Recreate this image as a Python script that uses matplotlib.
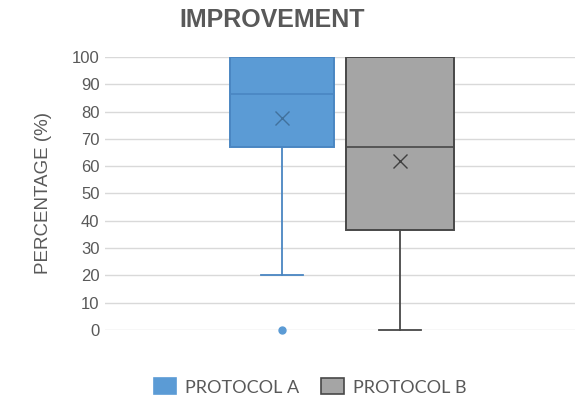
import matplotlib
matplotlib.use("Agg")
import matplotlib.pyplot as plt
from matplotlib.patches import Patch

# --- data ---
series = ["PROTOCOL A", "PROTOCOL B"]
whislo = [20, 0]
q1 = [67, 36.5]
med = [86.5, 67]
q3 = [100, 100]
whishi = [100, 100]
means = [77.5, 62]
fliers = [[0], []]

fills = ["#5B9BD5", "#A5A5A5"]
edges = ["#4A86C2", "#484848"]
mean_cols = ["#41719C", "#404040"]

plt.rcParams["font.family"] = ["Liberation Sans", "DejaVu Sans"]

fig = plt.figure(figsize=(5.85, 4.01), dpi=100)
ax = fig.add_axes([0.1795, 0.177, 0.8035, 0.681])

positions = [0.377, 0.628]
widths = [0.221, 0.23]

for i in range(len(series)):
    stats = [dict(whislo=whislo[i], q1=q1[i], med=med[i], q3=q3[i],
                  whishi=whishi[i], mean=means[i], fliers=fliers[i])]
    parts = ax.bxp(stats, positions=[positions[i]], widths=[widths[i]],
                   patch_artist=True, showmeans=True, showcaps=True,
                   boxprops=dict(facecolor=fills[i], edgecolor=edges[i], linewidth=1.4),
                   medianprops=dict(color=edges[i], linewidth=1.2),
                   whiskerprops=dict(color=edges[i], linewidth=1.3),
                   capprops=dict(color=edges[i], linewidth=1.3),
                   capwidths=[0.09],
                   meanprops=dict(marker="x", markeredgecolor=mean_cols[i],
                                  markersize=10, markeredgewidth=1.0),
                   flierprops=dict(marker="o", markerfacecolor=fills[i],
                                   markeredgecolor=fills[i], markersize=5),
                   zorder=3)
    # no cap drawn when whisker coincides with box edge
    if whishi[i] == q3[i]:
        parts["caps"][1].set_visible(False)
    for ln in ax.lines:
        ln.set_clip_on(False)

ax.set_xlim(0, 1)
ax.set_ylim(0, 100)
ax.set_yticks(range(0, 101, 10))
ax.set_xticks([])
ax.yaxis.grid(True, color="#D9D9D9", linewidth=1.0, zorder=0)
ax.set_axisbelow(True)
for s in ax.spines.values():
    s.set_visible(False)
ax.tick_params(axis="y", length=0, pad=4, labelsize=12, labelcolor="#595959")
ax.set_ylabel("PERCENTAGE (%)", fontsize=13.5, color="#595959", labelpad=14)

fig.text(0.465, 0.95, "IMPROVEMENT", ha="center", va="center",
         fontsize=18, fontweight="bold", color="#595959")

handles = [Patch(facecolor=fills[i], edgecolor=edges[i] if i else fills[i], linewidth=1.2)
           for i in range(len(series))]
fig.legend(handles, series, loc="center", bbox_to_anchor=(0.53, 0.035), ncol=2,
           frameon=False, prop={"family": ["Lato", "DejaVu Sans"], "size": 13},
           labelcolor="#595959", handlelength=1.25, handleheight=1.0, columnspacing=1.2,
           handletextpad=0.5)

fig.savefig("out.png", dpi=100)
